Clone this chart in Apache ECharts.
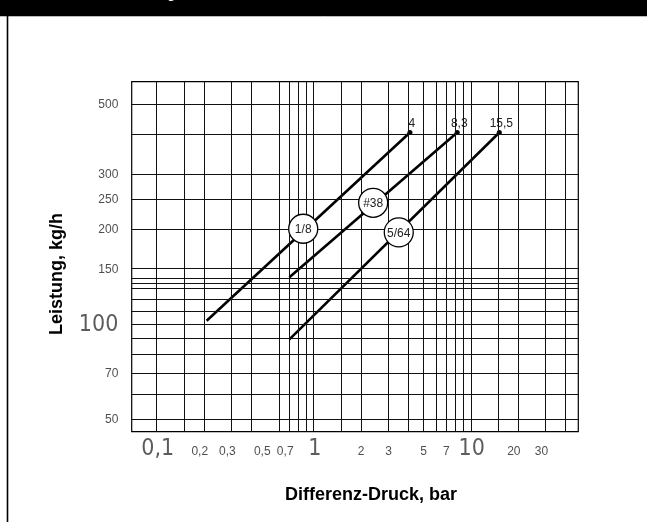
<!DOCTYPE html>
<html><head><meta charset="utf-8">
<script src="https://cdn.jsdelivr.net/npm/echarts@6/dist/echarts.min.js"></script>
<style>html,body{margin:0;padding:0;background:#fff}#c{width:647px;height:522px}</style>
</head><body><div id="c"></div>
<script>
// ---- data ----
const xGridValues = [0.1, 0.15, 0.2, 0.3, 0.4, 0.6, 0.7, 0.8, 0.9, 1, 1.5, 2, 3, 4, 5, 6, 7, 8, 9, 10, 15, 20, 30, 40];
const yGridValues = [50, 60, 70, 80, 90, 100, 110, 120, 130, 135, 140, 150, 200, 250, 300, 400, 500];
const xTickMajor = [0.1, 1, 10];
const xTickMinor = [0.2, 0.3, 0.5, 0.7, 2, 3, 5, 7, 20, 30];
const yTickMajor = [100];
const yTickMinor = [50, 70, 150, 200, 250, 300, 500];
const seriesNames = ['1/8', '#38', '5/64'];
const seriesStart = [[0.208, 102.6], [0.7, 140.9], [0.7, 89.5]];
const seriesEnd = [[4.1, 406], [8.2, 406], [15.2, 406]];
const endLabels = ['4', '8,3', '15,5'];
const tagPositions = [[0.857, 200.9], [2.39, 242.9], [3.48, 195.7]];
const xMin = 0.0693, xMax = 48.4, yMin = 45.57, yMax = 588.6;

const fmt = v => String(v).replace('.', ',');
const SMALL = '11px "Liberation Sans", Arial, sans-serif';
const narrow = '"Liberation Sans Narrow", "Arial Narrow", "DejaVu Sans Condensed", sans-serif';

const chart = echarts.init(document.getElementById('c'), null, {renderer: 'canvas'});

const series = [];
// grid lines
series.push({
  type: 'line', data: [[xMin, yMin]], symbol: 'none', lineStyle: {opacity: 0}, silent: true, z: 1,
  markLine: {
    silent: true, symbol: ['none', 'none'], animation: false, label: {show: false},
    lineStyle: {color: '#111', width: 1, type: 'solid'},
    emphasis: {disabled: true},
    data: xGridValues.map(v => ({xAxis: v})).concat(yGridValues.map(v => ({yAxis: v})))
  }
});
// characteristic lines
seriesNames.forEach((n, i) => {
  series.push({
    type: 'line', name: n, z: 3, silent: true, clip: false,
    symbol: 'circle', showSymbol: true,
    lineStyle: {color: '#000', width: 2.6}, itemStyle: {color: '#000'},
    data: [
      {value: seriesStart[i], symbolSize: 0.1},
      {value: seriesEnd[i], symbolSize: 5, label: {show: true, position: 'inside', formatter: endLabels[i],
        offset: [2, -8.5], color: '#222', font: SMALL}}
    ]
  });
});
// tags
series.push({
  type: 'scatter', z: 5, silent: true, clip: false,
  symbol: 'circle', symbolSize: 29,
  itemStyle: {color: '#fff', borderColor: '#000', borderWidth: 1.3, opacity: 1},
  label: {show: true, position: 'inside', color: '#222', font: SMALL, offset: [0, 1],
    formatter: p => seriesNames[p.dataIndex]},
  data: tagPositions
});
// tick labels
const labelSeries = (data, labelOpts) => ({
  type: 'scatter', z: 4, silent: true, clip: false, symbolSize: 1,
  itemStyle: {color: 'rgba(0,0,0,0)'},
  label: Object.assign({show: true, position: 'inside', color: '#222'}, labelOpts),
  data: data
});
series.push(labelSeries(xTickMinor.map(v => ({value: [v, yMin],
  label: {offset: [fmt(v).length > 1 ? -4.2 : 0, 20.3]}})),
  {font: SMALL, formatter: p => fmt(p.value[0])}));
series.push(labelSeries(xTickMajor.map(v => ({value: [v, yMin]})),
  {fontSize: 23, fontFamily: narrow, color: '#333', offset: [1, 17], formatter: p => fmt(p.value[0])}));
series.push(labelSeries(yTickMinor.map(v => ({value: [xMin, v]})),
  {font: SMALL, align: 'right', offset: [-13.4, 0.5], formatter: p => fmt(p.value[1])}));
series.push(labelSeries(yTickMajor.map(v => ({value: [xMin, v]})),
  {fontSize: 23, fontFamily: narrow, color: '#333', align: 'right', offset: [-13.4, 0.5], formatter: p => fmt(p.value[1])}));

chart.setOption({
  animation: false,
  backgroundColor: '#fff',
  grid: {left: 131.7, right: 68.7, top: 81.7, bottom: 90.3, show: true, borderColor: '#000', borderWidth: 1.2, backgroundColor: 'rgba(0,0,0,0)'},
  xAxis: {type: 'log', logBase: 10, min: xMin, max: xMax,
    axisLine: {show: false}, axisTick: {show: false}, axisLabel: {show: false}, splitLine: {show: false}},
  yAxis: {type: 'log', logBase: 10, min: yMin, max: yMax,
    axisLine: {show: false}, axisTick: {show: false}, axisLabel: {show: false}, splitLine: {show: false}},
  graphic: [
    {type: 'rect', shape: {x: 0, y: 0, width: 647, height: 16}, style: {fill: '#000'}, z: 10},
    {type: 'line', shape: {x1: 0, y1: 16.5, x2: 647, y2: 16.5}, style: {stroke: '#bbb', lineWidth: 1}, z: 10},
    {type: 'text', style: {text: 'Bild 3 – Düsen-Leistung nach Differenz-Druck', x: 27, y: 1, fill: '#fff',
      font: 'bold 13px "Liberation Sans", Arial, sans-serif', verticalAlign: 'bottom'}, z: 11},
    {type: 'line', shape: {x1: 7.5, y1: 16, x2: 7.5, y2: 522}, style: {stroke: '#000', lineWidth: 1.6}, z: 10},
    {type: 'text', style: {text: 'Differenz-Druck, bar', x: 371, y: 495, fill: '#000',
      font: 'bold 18px "Liberation Sans", Arial, sans-serif', align: 'center', verticalAlign: 'middle'}, z: 10},
    {type: 'text', rotation: Math.PI / 2, x: 57.5, y: 274,
      style: {text: 'Leistung, kg/h', x: 0, y: 0, fill: '#000',
      font: 'bold 18px "Liberation Sans", Arial, sans-serif', align: 'center', verticalAlign: 'middle'}, z: 10}
  ],
  series: series
});
</script></body></html>
